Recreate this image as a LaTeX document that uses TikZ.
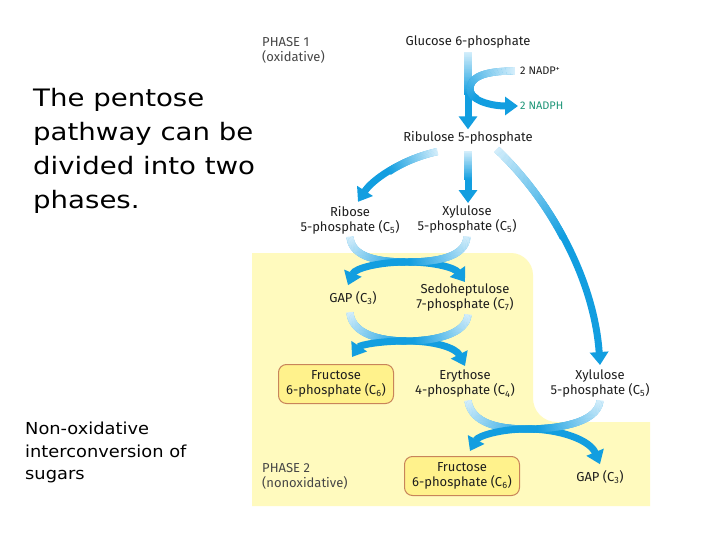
\documentclass[tikz,border=0pt]{standalone}
\usepackage{fontspec}
\setmainfont{Fira Sans}
\newfontfamily\slidefont[FakeStretch=1.15]{DejaVu Sans}
\newfontfamily\notefont[FakeStretch=1.08]{DejaVu Sans}
\usetikzlibrary{arrows.meta,decorations.markings}

\definecolor{flowblue}{RGB}{18,158,224}
\definecolor{flowpale}{RGB}{212,238,251}
\definecolor{phasebg}{RGB}{255,250,190}
\definecolor{boxfill}{RGB}{255,242,140}
\definecolor{boxline}{RGB}{200,132,90}
\definecolor{labeltext}{RGB}{30,30,30}
\definecolor{phasetext}{RGB}{70,70,70}
\definecolor{nadphgreen}{RGB}{30,150,120}

% colour of one slice of a flow arrow, pale at the start
\newcommand{\flowshade}[1]{%
  \pgfmathsetmacro\flowpct{min(100,100*\pgfkeysvalueof{/pgf/decoration/mark info/distance from start}/(#1*\pgfdecoratedpathlength))}%
  \fill[flowblue!\flowpct!flowpale] (-0.6pt,-3.6pt) rectangle (0.6pt,3.6pt);}

\tikzset{
  lbl/.style={font=\fontsize{13}{15}\selectfont, text=labeltext, align=center, inner sep=0pt},
  phaselbl/.style={lbl, text=phasetext, align=left},
  sugarbox/.style={lbl, draw=boxline, fill=boxfill, rounded corners=8pt, line width=1pt,
    minimum width=115pt, minimum height=39pt},
  slidetext/.style={font=\slidefont\fontsize{24}{34}\selectfont, align=left, inner sep=0pt},
  notetext/.style={font=\notefont\fontsize{16.5}{22.5}\selectfont, align=left, inner sep=0pt},
  flow/.style={line width=7pt, draw=flowblue, -{Triangle[width=18pt,length=13pt]},
    postaction={decorate},
    decoration={markings, mark=between positions 0 and #1 step 0.8pt with {\flowshade{#1}}}},
  flow/.default=0.6
}

\begin{document}
\begin{tikzpicture}[x=1pt,y=-1pt]
\path[use as bounding box, fill=white] (0,0) rectangle (720,540);

% phase 2 background
\fill[phasebg] (252,253) -- (511,253) .. controls (523,253) and (533,263) .. (533,275)
  -- (533,398) .. controls (533,411) and (543,422) .. (557,422)
  -- (650,422) -- (650,506) -- (252,506) -- cycle;

% slide text
\node[slidetext, anchor=north west] (intro) at (33,88) {The pentose\\pathway can be\\divided into two\\phases.};
\node[notetext, anchor=north west] (note) at (25,422) {Non-oxidative\\interconversion of\\sugars};

% phase labels
\node[phaselbl, anchor=west] (phase1) at (262,50) {PHASE 1\\(oxidative)};
\node[phaselbl, anchor=west] (phase2) at (262,476) {PHASE 2\\(nonoxidative)};

% sugars
\node[lbl] (glucose) at (468,42) {Glucose 6-phosphate};
\node[lbl, anchor=west, font=\fontsize{11}{13}\selectfont] (nadp) at (520,71) {2 NADP\textsuperscript{+}};
\node[lbl, anchor=west, font=\fontsize{11}{13}\selectfont, text=nadphgreen] (nadph) at (520,106) {2 NADPH};
\node[lbl] (ribulose) at (468,138) {Ribulose 5-phosphate};
\node[lbl] (ribose) at (350,220) {Ribose\\5-phosphate (C\textsubscript{5})};
\node[lbl] (xyl1) at (467,220) {Xylulose\\5-phosphate (C\textsubscript{5})};
\node[lbl] (gap1) at (353,298) {GAP (C\textsubscript{3})};
\node[lbl] (sedo) at (465,298) {Sedoheptulose\\7-phosphate (C\textsubscript{7})};
\node[sugarbox] (fru1) at (336,384) {Fructose\\6-phosphate (C\textsubscript{6})};
\node[lbl] (ery) at (465,384) {Erythose\\4-phosphate (C\textsubscript{4})};
\node[lbl] (xyl2) at (600,384) {Xylulose\\5-phosphate (C\textsubscript{5})};
\node[sugarbox] (fru2) at (462,476) {Fructose\\6-phosphate (C\textsubscript{6})};
\node[lbl] (gap2) at (600,477) {GAP (C\textsubscript{3})};

% phase 1 arrows
\draw[flow=0.55] ([yshift=-4pt]glucose.south) -- ([yshift=2pt]ribulose.north);
\draw[flow=0.6] ([xshift=-6pt]nadp.west) .. controls (482,71) and (470,78) .. (470,89)
  .. controls (470,101) and (492,106) .. ([xshift=-2pt]nadph.west);
\draw[flow=0.55] ([xshift=-31pt,yshift=-7pt]ribulose.south) .. controls (400,160) and (372,180) .. ([xshift=8pt,yshift=4pt]ribose.north);
\draw[flow=0.55] ([yshift=-7pt]ribulose.south) -- ([yshift=3pt]ribulose.south |- xyl1.north);
\draw[flow=0.45] ([xshift=29pt,yshift=-5pt]ribulose.south) .. controls (560,210) and (595,290) .. ([yshift=5pt]xyl2.north);

% transfers
\draw[flow=0.5] ([yshift=-3pt]ribose.south) .. controls (352,258) and (380,262) .. (407,262)
  .. controls (435,262) and (455,268) .. ([yshift=2pt]sedo.north);
\draw[flow=0.5] ([yshift=-3pt]xyl1.south) .. controls (465,258) and (435,262) .. (407,262)
  .. controls (380,262) and (355,268) .. ([xshift=-5pt,yshift=6pt]gap1.north);

\draw[flow=0.5] ([xshift=-3pt,yshift=-8pt]gap1.south) .. controls (352,334) and (380,341) .. (407,341)
  .. controls (435,341) and (456,348) .. ([yshift=4pt]ery.north);
\draw[flow=0.5] ([xshift=3pt,yshift=-3pt]sedo.south) .. controls (466,334) and (435,341) .. (407,341)
  .. controls (380,341) and (360,345) .. ([xshift=16pt,yshift=7pt]fru1.north);

\draw[flow=0.5] ([xshift=3pt,yshift=-3pt]ery.south) .. controls (472,424) and (500,429) .. (527,429)
  .. controls (560,429) and (590,440) .. ([yshift=6pt]gap2.north);
\draw[flow=0.5] ([yshift=-3pt]xyl2.south) .. controls (597,424) and (555,429) .. (527,429)
  .. controls (500,429) and (478,436) .. ([xshift=8pt,yshift=5pt]fru2.north);
\end{tikzpicture}
\end{document}
